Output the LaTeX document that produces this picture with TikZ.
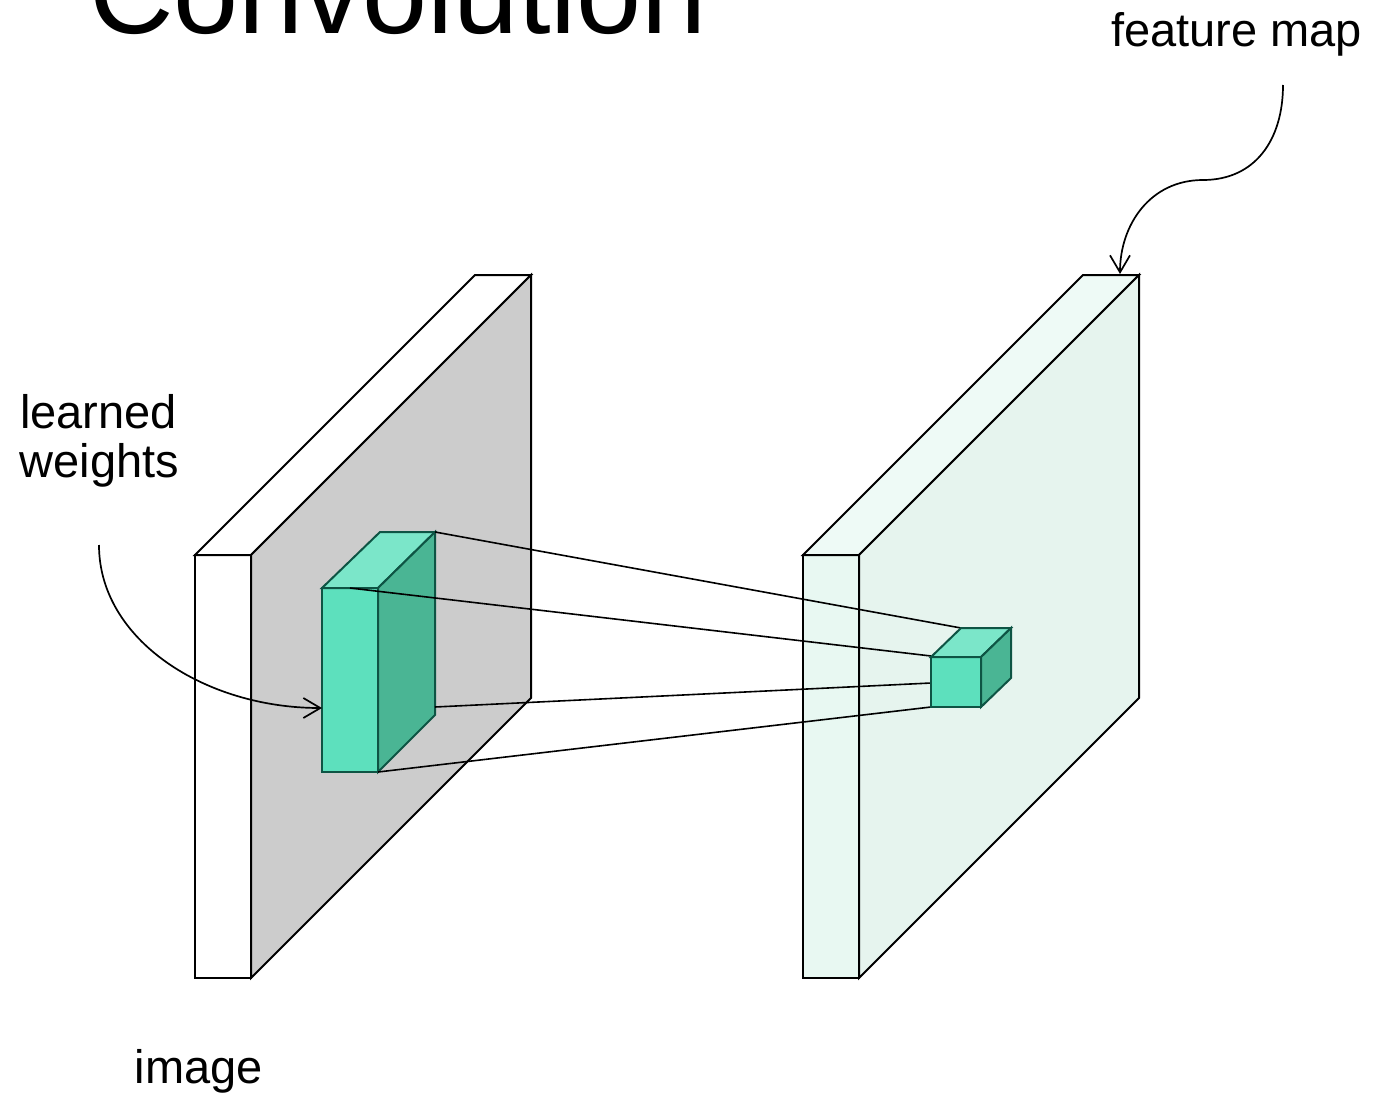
\documentclass[tikz,border=0pt]{standalone}
\usepackage{fontspec}
\setmainfont{Liberation Sans}
\usetikzlibrary{arrows.meta}
\definecolor{imgside}{HTML}{CCCCCC}
\definecolor{fmfront}{HTML}{E8F8F2}
\definecolor{fmtop}{HTML}{EEFAF6}
\definecolor{fmside}{HTML}{E6F4EE}
\definecolor{kfront}{HTML}{5DE0BD}
\definecolor{ktop}{HTML}{7BE6C9}
\definecolor{kside}{HTML}{4AB594}
\definecolor{kedge}{HTML}{0E5444}
\begin{document}
\begin{tikzpicture}[x=1pt,y=-1pt,
  slabedge/.style={draw=black,line width=2pt},
  kbox/.style={draw=kedge,line width=2pt},
  link/.style={draw=black,line width=1.6pt},
  arr/.style={draw=black,line width=1.7pt,-{Straight Barb[length=17pt,width=20pt,line width=1.7pt]}},
  lbl/.style={font=\fontsize{47}{49}\selectfont,inner sep=0pt}]
\useasboundingbox (0,0) rectangle (1375,1097);
\fill[white] (0,0) rectangle (1375,1097);

% image slab
\filldraw[slabedge,fill=white] (195,555) rectangle (251,978);
\filldraw[slabedge,fill=white] (195,555) -- (475,275) -- (531,275) -- (251,555) -- cycle;
\filldraw[slabedge,fill=imgside] (251,555) -- (531,275) -- (531,698) -- (251,978) -- cycle;

% feature map slab
\filldraw[slabedge,fill=fmfront] (803,555) rectangle (859,978);
\filldraw[slabedge,fill=fmtop] (803,555) -- (1083,275) -- (1139,275) -- (859,555) -- cycle;
\filldraw[slabedge,fill=fmside] (859,555) -- (1139,275) -- (1139,698) -- (859,978) -- cycle;

% kernel box
\filldraw[kbox,fill=kfront] (322,588) rectangle (378,772);
\filldraw[kbox,fill=ktop] (322,588) -- (380,532) -- (435,532) -- (378,588) -- cycle;
\filldraw[kbox,fill=kside] (378,588) -- (435,532) -- (435,715) -- (378,772) -- cycle;

\coordinate (k1) at (435,532);
\coordinate (k2) at (350,588);
\coordinate (k3) at (435,707);
\coordinate (k4) at (378,772);
\coordinate (c1) at (961,628);
\coordinate (c2) at (931,656);
\coordinate (c3) at (931,683);
\coordinate (c4) at (931,707);
\draw[link] (k1) -- (c1);
\draw[link] (k2) -- (c2);
\draw[link] (k3) -- (c3);
\draw[link] (k4) -- (c4);

% output cube
\filldraw[kbox,fill=kfront] (931,657) rectangle (981,707);
\filldraw[kbox,fill=ktop] (931,657) -- (961,628) -- (1011,628) -- (981,657) -- cycle;
\filldraw[kbox,fill=kside] (981,657) -- (1011,628) -- (1011,678) -- (981,707) -- cycle;

% texts
\node[font=\fontsize{117}{120}\selectfont,inner sep=0pt,anchor=base west] (title) at (89,34) {Convolution};
\node[lbl,anchor=base west] (fm) at (1111,47) {feature map};
\node[lbl,anchor=base] (lw1) at (98.5,428) {learned};
\node[lbl,anchor=base] (lw2) at (99.5,477) {weights};
\node[lbl,anchor=base] (img) at (199,1083) {image};

% arrows
\coordinate (lwS) at (99,545);
\coordinate (lwE) at (322,708);
\draw[arr] (lwS) .. controls (99,640) and (205,708) .. (lwE);
\coordinate (fmS) at (1283,85);
\coordinate (fmM) at (1203,180);
\coordinate (fmE) at (1120,274);
\draw[arr] (fmS) .. controls (1283,140) and (1255,180) .. (fmM) .. controls (1150,180) and (1120,225) .. (fmE);
\end{tikzpicture}
\end{document}
